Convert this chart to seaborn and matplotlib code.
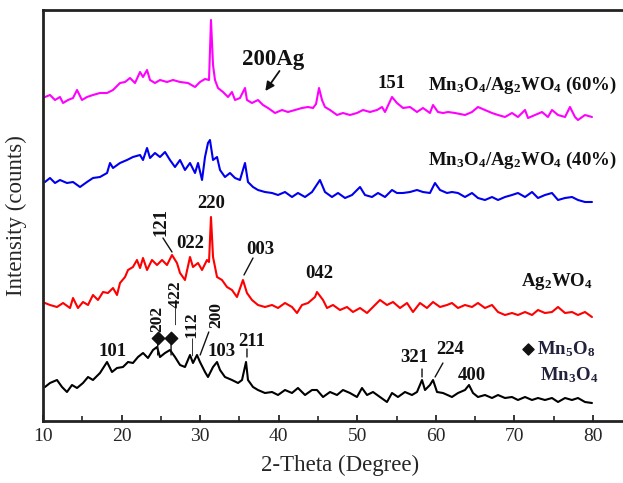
import numpy as np
import pandas as pd
import matplotlib
matplotlib.use("Agg")
import matplotlib.pyplot as plt
import seaborn as sns
from matplotlib.ticker import MultipleLocator

# ---------------- data ----------------
tt_m60 = [10.25,10.89,11.53,12.16,12.55,13.18,13.82,14.33,14.96,15.60,
          16.36,17.25,18.15,18.91,19.80,20.44,21.07,21.71,22.35,22.73,
          23.24,23.62,24.25,24.89,25.78,26.55,27.44,28.45,29.35,29.98,
          30.62,31.13,31.38,31.64,31.89,32.27,32.91,33.55,34.05,34.44,
          35.07,35.71,35.96,36.60,37.36,38.00,38.64,39.53,40.42,41.18,
          42.07,42.96,43.73,44.36,44.75,45.13,45.51,45.89,46.53,47.42,
          48.18,49.07,49.96,50.73,51.62,52.51,53.15,53.53,54.42,55.05,
          55.82,56.71,57.60,58.36,59.25,59.64,60.27,60.91,61.55,62.44,
          63.71,64.60,65.36,66.25,67.15,67.91,68.80,69.69,70.45,71.35,
          71.73,72.62,73.51,74.27,74.78,75.55,76.44,77.07,77.71,78.09,
          78.98,79.87]
int_m60 = [324,326,321,324,318,321,323,331,321,324,
           326,328,328,331,338,339,343,338,349,344,
           351,341,338,341,339,341,339,338,334,339,
           342,341,401,356,341,333,329,324,329,321,
           323,333,321,318,321,316,313,308,311,309,
           311,313,314,313,317,333,321,314,311,306,
           308,306,308,311,309,311,314,309,324,318,
           313,314,309,313,308,316,309,308,309,308,
           306,309,314,311,308,306,304,308,304,311,
           303,306,309,304,311,306,304,314,304,301,
           306,304]

tt_m40 = [10.25,10.89,11.53,12.16,13.05,13.82,14.71,15.60,16.36,17.25,
          18.15,18.53,18.91,19.80,20.69,21.45,22.35,22.73,23.24,23.62,
          24.25,24.89,25.53,26.16,26.80,27.44,28.07,28.71,29.35,29.73,
          30.24,30.62,31.00,31.25,31.64,32.15,32.53,33.16,33.80,34.44,
          35.07,35.71,36.09,36.73,37.36,38.25,39.15,39.91,40.80,41.69,
          42.45,43.35,44.24,45.25,45.89,46.78,47.55,48.44,49.33,50.35,
          50.98,51.87,52.64,53.53,54.42,55.05,55.82,56.71,57.60,58.36,
          59.25,59.89,60.53,61.42,62.05,62.82,63.71,64.60,65.36,66.25,
          67.15,67.91,68.80,69.69,70.45,71.35,72.24,73.00,73.89,74.78,
          75.55,76.44,77.33,78.09,78.98,79.87]
int_m40 = [239,243,238,241,238,239,234,239,243,244,
           248,258,253,258,261,264,266,261,273,263,
           268,264,269,261,254,261,251,258,248,258,
           241,264,278,281,261,264,251,244,248,243,
           241,258,239,234,231,229,228,226,229,224,
           228,224,229,241,229,224,228,223,226,234,
           226,224,228,224,231,228,228,229,231,229,
           228,238,231,228,229,228,224,228,223,221,
           224,221,224,226,228,224,229,223,226,228,
           221,223,224,221,219,219]

tt_ag = [10.25,10.89,11.78,12.55,13.44,13.82,14.45,15.09,15.73,16.36,
         17.00,17.64,18.27,18.91,19.42,19.80,20.44,20.82,21.45,21.96,
         22.35,22.73,23.24,23.87,24.51,25.15,25.78,26.42,27.05,27.44,
         28.07,28.71,29.09,29.73,30.24,30.87,31.13,31.38,31.64,32.15,
         32.78,33.42,34.05,34.69,35.45,35.96,36.60,37.36,38.25,39.15,
         39.91,40.80,41.69,42.33,42.96,43.73,44.62,44.87,45.64,46.15,
         46.91,47.80,48.69,49.45,50.35,51.24,52.00,52.89,53.78,54.55,
         55.44,56.33,57.09,57.98,58.87,59.64,60.53,61.42,62.05,62.82,
         63.71,64.60,65.36,66.25,67.15,67.91,68.80,69.69,70.45,71.35,
         72.24,73.00,73.89,74.78,75.55,76.44,77.33,78.09,78.98,79.87]
int_ag = [118,116,114,118,113,123,113,119,116,126,
          121,129,128,133,126,138,144,151,154,161,
          153,163,151,161,156,161,156,166,158,148,
          141,164,154,158,151,161,159,204,164,144,
          141,134,131,124,141,128,121,116,114,116,
          113,118,114,108,116,118,124,129,121,113,
          116,111,114,109,113,108,114,121,116,119,
          113,118,109,118,113,119,114,116,118,113,
          116,114,118,113,116,109,106,108,106,109,
          106,111,108,109,114,108,109,106,109,104]

tt_mn = [10.25,10.89,11.78,12.42,13.05,13.69,14.33,15.09,15.73,16.36,
         17.25,18.15,18.78,19.42,20.18,20.82,21.45,22.09,22.73,23.36,
         24.00,24.51,24.89,25.53,26.16,26.80,27.44,28.07,28.71,29.09,
         29.60,29.98,30.62,31.00,31.64,32.15,32.53,33.16,34.05,34.82,
         35.33,35.84,36.09,36.73,37.36,38.25,39.15,39.91,40.80,41.69,
         42.45,43.35,44.24,44.87,45.64,46.53,47.42,48.18,49.07,49.96,
         50.60,51.24,52.00,52.89,53.78,54.42,55.18,56.07,56.96,57.60,
         58.24,58.62,59.25,59.64,60.15,60.91,62.05,62.82,63.71,64.22,
         64.73,65.36,66.25,67.15,67.91,68.80,69.69,70.45,71.35,72.24,
         73.00,73.89,74.78,75.55,76.44,77.33,78.09,78.98,79.87]
int_mn = [34,38,41,34,29,36,33,38,44,41,
          48,59,49,53,54,59,58,64,68,63,
          71,74,64,68,71,64,56,54,66,58,
          66,59,49,44,54,59,51,44,41,38,
          41,59,41,34,31,28,29,26,31,28,
          33,26,31,31,24,29,26,31,28,24,
          33,26,29,24,19,28,24,29,26,29,
          41,31,36,41,29,28,24,28,31,36,
          28,24,26,23,26,23,24,21,24,21,
          23,21,23,19,23,21,23,19,18]

series_names = ["Mn3O4/Ag2WO4 (60%)", "Mn3O4/Ag2WO4 (40%)", "Ag2WO4", "Mn3O4"]
series_colors = ["#ff00ff", "#0000ee", "#ff0000", "#000000"]

xticks = [10, 20, 30, 40, 50, 60, 70, 80]

# ---------------- style ----------------
sns.set_style("ticks")
plt.rcParams["font.family"] = ["Liberation Serif", "DejaVu Serif"]
plt.rcParams["mathtext.fontset"] = "custom"
plt.rcParams["mathtext.rm"] = "Liberation Serif"
plt.rcParams["mathtext.bf"] = "Liberation Serif:bold"
plt.rcParams["mathtext.default"] = "bf"

frames = []
for name, tt, it in zip(series_names,
                        [tt_m60, tt_m40, tt_ag, tt_mn],
                        [int_m60, int_m40, int_ag, int_mn]):
    frames.append(pd.DataFrame({"two_theta": tt, "intensity": it, "sample": name}))
df = pd.concat(frames, ignore_index=True)

fig = plt.figure(figsize=(6.23, 4.83), dpi=100)
ax = fig.add_axes([43/623, 62/483, 580/623, 411/483])

sns.lineplot(data=df, x="two_theta", y="intensity", hue="sample",
             hue_order=series_names, palette=series_colors,
             sort=False, estimator=None, linewidth=1.5, legend=False, ax=ax)

ax.set_xlim(10, 83.82)
ax.set_ylim(0, 411)
ax.set_xticks(xticks)
ax.xaxis.set_minor_locator(MultipleLocator(5))
ax.set_yticks([])
ax.tick_params(axis="x", which="major", direction="in", length=4.5, width=1.3,
               labelsize=14, pad=5, top=False)
ax.tick_params(axis="x", which="minor", direction="in", length=3.5, width=1.2, top=False)
for side in ["left", "bottom", "top"]:
    ax.spines[side].set_linewidth(2.0)
    ax.spines[side].set_color("#222222")
ax.spines["right"].set_visible(False)

ax.set_xlabel("2-Theta (Degree)", fontsize=16.5)
ax.set_ylabel("Intensity (counts)", fontsize=16.5)
ax.xaxis.set_label_coords(0.512, -0.083)
ax.yaxis.set_label_coords(-0.028, 0.50)

fs = 13.5

def lab(x, y, s, rot=0, ha="center", va="center", size=fs, color="#111111"):
    ax.text(x, y, s, rotation=rot, ha=ha, va=va, fontsize=size,
            fontweight="bold", color=color)

def leader(x0, y0, x1, y1):
    ax.annotate("", xy=(x1, y1), xytext=(x0, y0),
                arrowprops=dict(arrowstyle="-", color="#111111", lw=1.0,
                                shrinkA=0, shrinkB=0))

# top series labels
lab(39.3, 361, "200Ag", size=16.5)
ax.annotate("", xy=(38.3, 330), xytext=(40.1, 350),
            arrowprops=dict(arrowstyle="-|>", color="#111111", lw=1.3,
                            mutation_scale=13, shrinkA=0, shrinkB=0))
lab(54.4, 338, "151")
lab(59.0, 336, r"Mn$_3$O$_4$/Ag$_2$WO$_4$ (60%)", ha="left", size=13.5)
lab(59.0, 261, r"Mn$_3$O$_4$/Ag$_2$WO$_4$ (40%)", ha="left", size=13.5)

# Ag2WO4 labels
lab(31.4, 218, "220")
lab(25.0, 199, "121", rot=90)
leader(25.27, 183, 26.42, 169)
lab(28.7, 178, "022")
lab(37.7, 172, "003")
leader(36.73, 163, 35.58, 146)
lab(45.1, 147, "042")
lab(80.0, 139, r"Ag$_2$WO$_4$", ha="right", size=13.5)

# Mn3O4 labels
lab(18.9, 70, "101")
ax.scatter([24.6, 26.3], [83, 83], marker="D", s=40, color="#111111", zorder=5)
leader(24.6, 78, 24.6, 66)
leader(26.3, 78, 26.3, 66)
lab(24.5, 102, "202", rot=90, size=12.5)
lab(27.0, 118, "\u2014422", rot=90, size=12.5)
lab(29.1, 86, "\u2014112", rot=90, size=12.5)
lab(32.1, 106, "200", rot=90, size=12.5)
leader(31.1, 89, 30.0, 66)
lab(32.7, 70, "103")
lab(36.6, 80, "211")
leader(35.96, 72, 35.96, 64)
lab(57.2, 64, "321")
leader(58.24, 52, 58.24, 44)
lab(61.8, 71, "224")
leader(60.9, 58, 59.9, 44)
lab(64.6, 45, "400")
ax.scatter([71.7], [72], marker="D", s=32, color="#111111", zorder=5)
lab(72.9, 72, r"Mn$_5$O$_8$", ha="left", size=13.5, color="#22223a")
lab(73.2, 46, r"Mn$_3$O$_4$", ha="left", size=13.5, color="#22223a")

fig.savefig("out.png", dpi=100)
